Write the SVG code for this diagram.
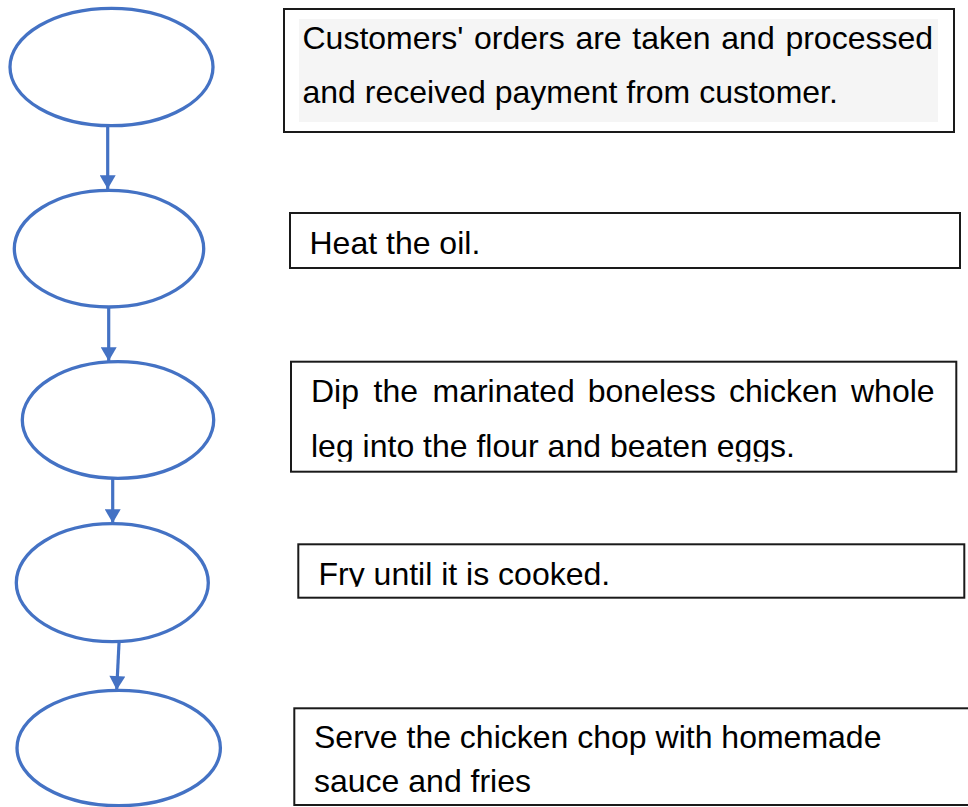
<svg xmlns="http://www.w3.org/2000/svg" width="968" height="807" viewBox="0 0 968 807">
<style>
.ell{fill:#fff;stroke:#4472C4;stroke-width:3.3}
.box{fill:#fff;stroke:#1a1a1a;stroke-width:2}
.t{font-family:"Liberation Sans",Arial,sans-serif;font-size:32px;fill:#000}
.con{stroke:#4472C4;stroke-width:3.2;fill:none;marker-end:url(#arr)}
</style>
<defs>
<marker id="arr" markerUnits="userSpaceOnUse" markerWidth="16" markerHeight="16" viewBox="0 0 13 15" refX="13" refY="7.5" orient="auto">
<path d="M0,0 L13,7.5 L0,15 Z" fill="#4472C4"/>
</marker>
<clipPath id="c3"><rect x="292" y="362" width="664" height="99.7"/></clipPath>
<clipPath id="c4"><rect x="299" y="545" width="665" height="41.7"/></clipPath>
</defs>
<rect width="968" height="807" fill="#fff"/>

<g id="connectors">
<line class="con" x1="107.7" y1="126" x2="107.7" y2="189"/>
<line class="con" x1="108.7" y1="307" x2="108.7" y2="361"/>
<line class="con" x1="112.7" y1="479" x2="112.7" y2="523"/>
<line class="con" x1="119" y1="643" x2="116.7" y2="690"/>
</g>

<g id="step1">
<ellipse class="ell" cx="111.5" cy="67" rx="101.5" ry="58.7"/>
<rect class="box" x="284" y="9" width="670" height="123"/>
<rect x="299" y="19" width="639" height="103" fill="#F5F5F5"/>
<text class="t" x="302.5" y="49.3" word-spacing="1.8">Customers' orders are taken and processed</text>
<text class="t" x="302.5" y="103.3">and received payment from customer.</text>
</g>

<g id="step2">
<ellipse class="ell" cx="109" cy="248.7" rx="94.7" ry="58.3"/>
<rect class="box" x="290" y="213" width="670" height="55"/>
<text class="t" x="309.5" y="254">Heat the oil.</text>
</g>

<g id="step3">
<ellipse class="ell" cx="118" cy="420" rx="95.7" ry="58.3"/>
<rect class="box" x="291" y="361.7" width="665.3" height="110"/>
<g clip-path="url(#c3)">
<text class="t" y="402"><tspan x="311">Dip</tspan><tspan x="373.5">the</tspan><tspan x="432.5">marinated</tspan><tspan x="587.7">boneless</tspan><tspan x="729">chicken</tspan><tspan x="851">whole</tspan></text>
<text class="t" x="311" y="456.7">leg into the flour and beaten eggs.</text>
</g>
</g>

<g id="step4">
<ellipse class="ell" cx="112.3" cy="582.7" rx="96" ry="59"/>
<rect class="box" x="298.3" y="544.3" width="666" height="53.4"/>
<g clip-path="url(#c4)">
<text class="t" x="318.5" y="585">Fry until it is cooked.</text>
</g>
</g>

<g id="step5">
<ellipse class="ell" cx="118.7" cy="748" rx="101.7" ry="57.7"/>
<rect class="box" x="294.3" y="708.3" width="690" height="96.7"/>
<text class="t" x="314" y="748.3">Serve the chicken chop with homemade</text>
<text class="t" x="314" y="791.7">sauce and fries</text>
</g>
</svg>
